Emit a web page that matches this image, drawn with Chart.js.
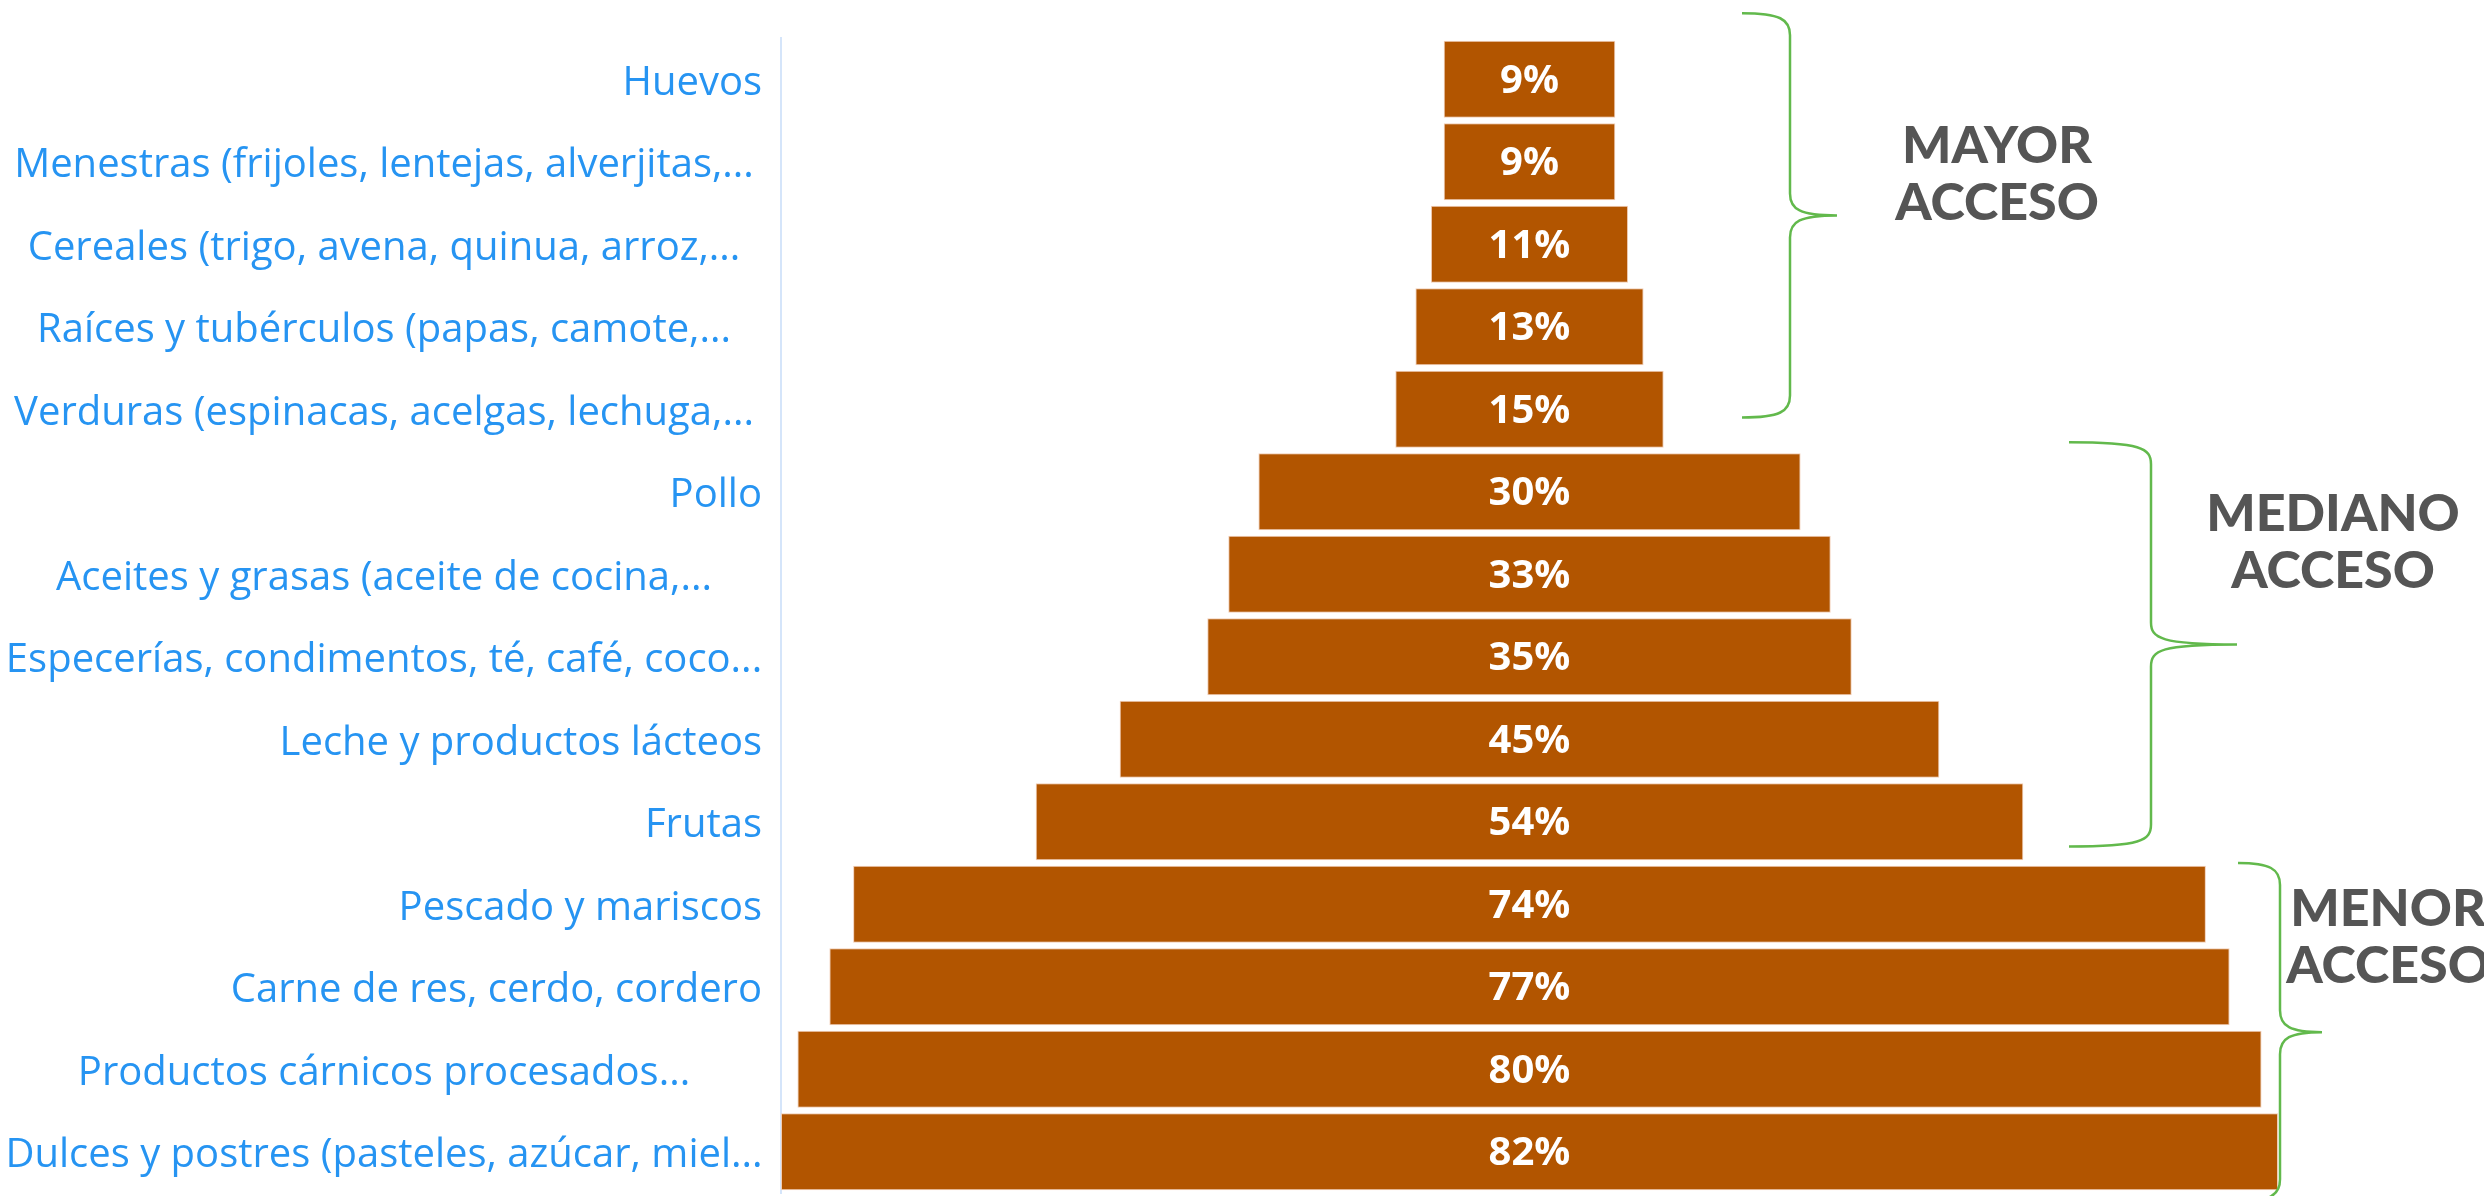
<!DOCTYPE html>
<html>
<head>
<meta charset="utf-8">
<script src="https://cdn.jsdelivr.net/npm/chart.js@4.4.1/dist/chart.umd.min.js"></script>
<style>
  html, body { margin: 0; padding: 0; background: #fff; overflow: hidden; }
</style>
</head>
<body>
<canvas id="funnel" width="2484" height="1196"></canvas>
<script>
/* data */
const categories = [
  "Huevos",
  "Menestras (frijoles, lentejas, alverjitas,...",
  "Cereales (trigo, avena, quinua, arroz,...",
  "Raíces y tubérculos (papas, camote,...",
  "Verduras (espinacas, acelgas, lechuga,...",
  "Pollo",
  "Aceites y grasas (aceite de cocina,...",
  "Especerías, condimentos, té, café, coco...",
  "Leche y productos lácteos",
  "Frutas",
  "Pescado y mariscos",
  "Carne de res, cerdo, cordero",
  "Productos cárnicos procesados...",
  "Dulces y postres (pasteles, azúcar, miel..."
];
const values = [9.4, 9.4, 10.8, 12.5, 14.7, 29.7, 33.0, 35.3, 44.9, 54.1, 74.1, 76.7, 80.2, 82.0];

const groupLines = [["MAYOR", "ACCESO"], ["MEDIANO", "ACCESO"], ["MENOR", "ACCESO"]];
const groupFrom = [-0.8, 4.4, 9.5];   // category index where the brace starts
const groupTo = [4.1, 9.3, 13.6];     // category index where the brace ends
const groupTextAt = [1.12, 5.58, 10.36];

/* styles */
const BAR = "#b25500";
const LABEL = "#2694f2";
const BRACE = "#62b94c";
const GROUP_TEXT = "#555555";
const AXIS_W = 781;
// brace geometry in px: left end, vertical line, tip, group text centre
const braceX = [[1742, 1790, 1837, 1997], [2069, 2151, 2237, 2333], [2238, 2280, 2322, 2388]];

const labelPlugin = {
  id: "catLabels",
  afterDraw(chart) {
    const { ctx } = chart;
    const y = chart.scales.y;
    ctx.save();
    ctx.font = "40px 'Open Sans'";
    ctx.fillStyle = LABEL;
    ctx.textBaseline = "middle";
    categories.forEach((c, i) => {
      const py = y.getPixelForValue(i) + 4;
      if (c.endsWith("...")) {
        ctx.textAlign = "center";
        ctx.fillText(c, 384, py);
      } else {
        ctx.textAlign = "right";
        ctx.fillText(c, 762, py);
      }
    });
    ctx.restore();
  }
};

const valuePlugin = {
  id: "valueLabels",
  afterDatasetsDraw(chart) {
    const { ctx } = chart;
    const meta = chart.getDatasetMeta(0);
    ctx.save();
    ctx.font = "bold 40px 'Open Sans'";
    ctx.fillStyle = "#ffffff";
    ctx.textAlign = "center";
    ctx.textBaseline = "middle";
    meta.data.forEach((bar, i) => {
      const p = bar.getCenterPoint();
      ctx.fillText(Math.round(values[i]) + "%", p.x, p.y + 2);
    });
    ctx.restore();
  }
};

const bracePlugin = {
  id: "braces",
  afterDraw(chart) {
    const { ctx } = chart;
    const y = chart.scales.y;
    ctx.save();
    ctx.strokeStyle = BRACE;
    ctx.lineWidth = 2.5;
    groupLines.forEach((lines, g) => {
      const [xl, xv, xt, xc] = braceX[g];
      const top = y.getPixelForValue(groupFrom[g]);
      const bot = y.getPixelForValue(groupTo[g]);
      const mid = (top + bot) / 2;
      const r = 22;
      ctx.beginPath();
      ctx.moveTo(xl, top);
      ctx.bezierCurveTo(xv - 10, top, xv, top + 6, xv, top + r);
      ctx.lineTo(xv, mid - r);
      ctx.bezierCurveTo(xv, mid - 6, xv + 10, mid, xt, mid);
      ctx.moveTo(xt, mid);
      ctx.bezierCurveTo(xv + 10, mid, xv, mid + 6, xv, mid + r);
      ctx.lineTo(xv, bot - r);
      ctx.bezierCurveTo(xv, bot - 6, xv - 10, bot, xl, bot);
      ctx.stroke();

      ctx.fillStyle = GROUP_TEXT;
      ctx.font = "900 52px Lato";
      ctx.textAlign = "center";
      ctx.textBaseline = "middle";
      const cy = y.getPixelForValue(groupTextAt[g]) + 3;
      ctx.fillText(lines[0], xc, cy - 28);
      ctx.fillText(lines[1], xc, cy + 29);
    });
    ctx.restore();
  }
};

function draw() {
  new Chart(document.getElementById("funnel"), {
    type: "bar",
    data: {
      labels: categories,
      datasets: [{
        data: values.map(v => [-v / 2, v / 2]),
        backgroundColor: BAR,
        borderColor: "#f1cdb6",
        borderWidth: 1,
        borderSkipped: false,
        barPercentage: 0.935,
        categoryPercentage: 1
      }]
    },
    options: {
      indexAxis: "y",
      responsive: false,
      devicePixelRatio: 1,
      animation: false,
      layout: { padding: { top: 38, bottom: 3, right: 206, left: 0 } },
      plugins: { legend: { display: false }, tooltip: { enabled: false } },
      scales: {
        x: { display: false, min: -41, max: 41 },
        y: {
          ticks: { display: false },
          grid: { display: false },
          border: { display: true, color: "#d5e5fa", width: 2 },
          afterFit(scale) { scale.width = AXIS_W; }
        }
      }
    },
    plugins: [labelPlugin, valuePlugin, bracePlugin]
  });
}

Promise.all([
  document.fonts.load("40px 'Open Sans'"),
  document.fonts.load("bold 40px 'Open Sans'"),
  document.fonts.load("900 52px Lato")
]).then(draw, draw);
</script>
</body>
</html>
